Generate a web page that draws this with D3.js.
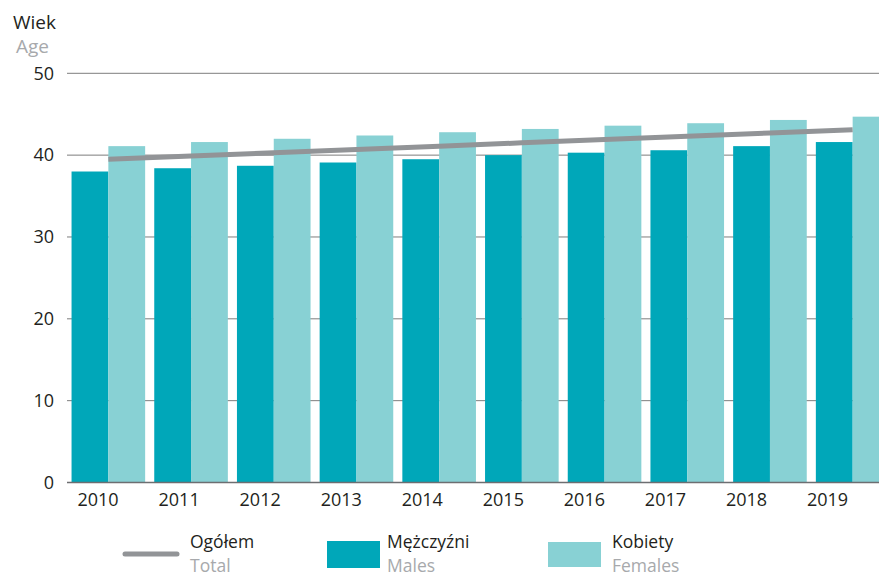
<!DOCTYPE html>
<html><head><meta charset="utf-8">
<script src="https://cdn.jsdelivr.net/npm/d3@7"></script>
<style>body{margin:0;background:#fff}svg{display:block;font-family:"Open Sans",sans-serif}</style>
</head><body>
<svg id="c" width="879" height="577"></svg>
<script>
const years = ["2010","2011","2012","2013","2014","2015","2016","2017","2018","2019"];
const males = [38.0, 38.4, 38.7, 39.1, 39.5, 40.0, 40.3, 40.6, 41.1, 41.6];
const females = [41.1, 41.6, 42.0, 42.4, 42.8, 43.2, 43.6, 43.9, 44.3, 44.7];
const total = [39.5, 39.9, 40.3, 40.7, 41.1, 41.5, 41.9, 42.3, 42.7, 43.1];
const yTicks = [0, 10, 20, 30, 40, 50];

const svg = d3.select("#c");
const cMale = "#00a7b9", cFemale = "#88d1d4", cLine = "#929497", cText = "#231f20", cSub = "#a7a9ac";

const y = d3.scaleLinear().domain([0, 50]).range([482.5, 73.3]);
const x = d3.scaleBand().domain(years).range([67, 894]).paddingInner(0.11).paddingOuter(0.055);
const xs = d3.scaleBand().domain(["m","f"]).range([0, x.bandwidth()]);
const xl = d3.scaleBand().domain(years).range([57.5, 868.1]);

// gridlines
svg.append("g").selectAll("line").data(yTicks.filter(d => d > 0)).join("line")
  .attr("x1", 67).attr("x2", 879).attr("y1", d => y(d)).attr("y2", d => y(d))
  .attr("stroke", "#7d7d7d").attr("stroke-width", 1);

// bars
const g = svg.append("g").selectAll("g").data(years).join("g")
  .attr("transform", d => `translate(${x(d)},0)`);
g.append("rect").attr("x", xs("m")).attr("width", xs.bandwidth())
  .attr("y", (d, i) => y(males[i])).attr("height", (d, i) => y(0) - y(males[i])).attr("fill", cMale);
g.append("rect").attr("x", xs("f")).attr("width", xs.bandwidth())
  .attr("y", (d, i) => y(females[i])).attr("height", (d, i) => y(0) - y(females[i])).attr("fill", cFemale);

// baseline
svg.append("line").attr("x1", 67).attr("x2", 879).attr("y1", y(0)).attr("y2", y(0))
  .attr("stroke", "#6d6e71").attr("stroke-width", 1.5);

// total line
const line = d3.line().x((d, i) => x(years[i]) + x.bandwidth() / 2).y(d => y(d));
svg.append("path").datum(total).attr("d", line).attr("fill", "none")
  .attr("stroke", cLine).attr("stroke-width", 5).attr("stroke-linecap", "butt");

// y axis
const ya = svg.append("g").attr("transform", "translate(67,0)")
  .call(d3.axisLeft(y).tickValues(yTicks).tickSize(0).tickPadding(13));
ya.select(".domain").remove();
ya.selectAll("text").attr("font-size", 18).attr("fill", cText).attr("font-family", "'Open Sans',sans-serif");

// x axis
const xa = svg.append("g").attr("transform", `translate(0,${y(0)})`)
  .call(d3.axisBottom(xl).tickSize(0).tickPadding(11));
xa.select(".domain").remove();
xa.selectAll("text").attr("font-size", 18).attr("fill", cText).attr("font-family", "'Open Sans',sans-serif");

// y title
svg.append("text").attr("x", 13).attr("y", 29).attr("font-size", 19).attr("fill", cText).text("Wiek");
svg.append("text").attr("x", 16).attr("y", 53).attr("font-size", 19).attr("fill", cSub).text("Age");

// legend
const lg = svg.append("g");
lg.append("line").attr("x1", 125).attr("x2", 177).attr("y1", 554).attr("y2", 554)
  .attr("stroke", cLine).attr("stroke-width", 5).attr("stroke-linecap", "round");
const legendItems = [
  {x: 190, pl: "Ogółem", en: "Total"},
  {x: 387, pl: "Mężczyźni", en: "Males"},
  {x: 612, pl: "Kobiety", en: "Females"}
];
legendItems.forEach(it => {
  lg.append("text").attr("x", it.x).attr("y", 548).attr("font-size", 17.5).attr("fill", cText).text(it.pl);
  lg.append("text").attr("x", it.x).attr("y", 572).attr("font-size", 17.5).attr("fill", cSub).text(it.en);
});
lg.append("rect").attr("x", 327).attr("y", 541).attr("width", 53).attr("height", 27).attr("fill", cMale);
lg.append("rect").attr("x", 548).attr("y", 542).attr("width", 53).attr("height", 25).attr("fill", cFemale);
</script>
</body></html>
